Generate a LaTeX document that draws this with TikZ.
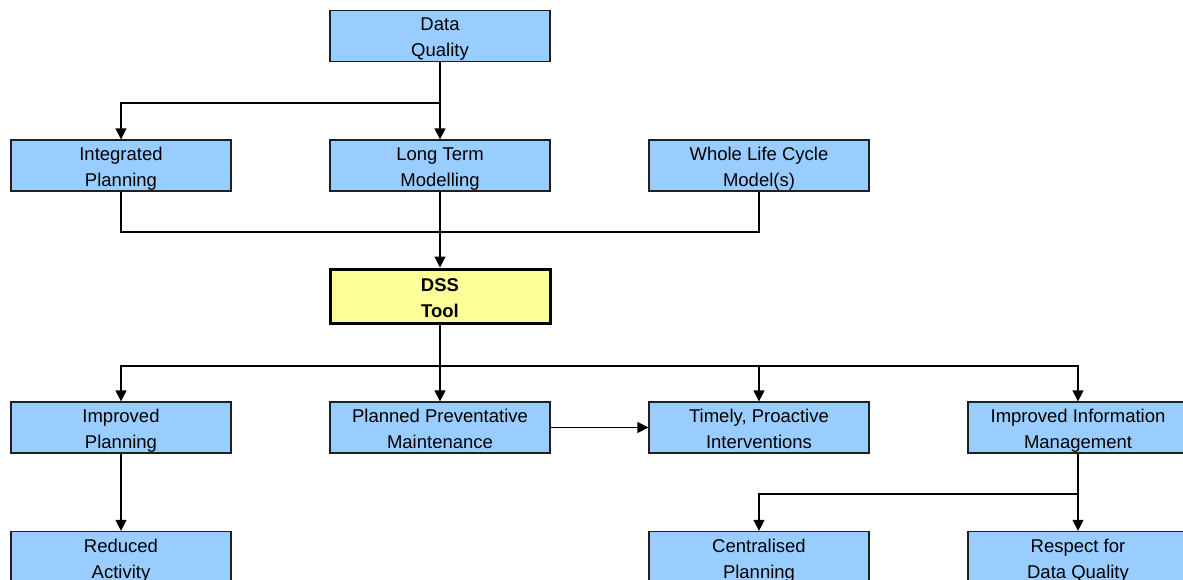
\documentclass[tikz,border=0pt]{standalone}
\usepackage{fontspec}
\setmainfont{Liberation Sans}
\usetikzlibrary{arrows.meta}
\definecolor{boxblue}{HTML}{99CCFF}
\definecolor{boxyellow}{HTML}{FFFF99}
\definecolor{edgegray}{HTML}{202020}
% two centred lines with a fixed first-line height and last-line depth
\newcommand\twolines[2]{\rule{0pt}{20pt}#1\\#2\rule[-4pt]{0pt}{4pt}}
\tikzset{
  box/.style={draw=edgegray, line width=1.3pt, fill=boxblue, minimum width=220pt,
    minimum height=51pt, inner sep=0pt, align=center,
    font=\fontsize{18.5}{26}\selectfont},
  hub/.style={box, fill=boxyellow, line width=3pt, draw=black, minimum height=54pt,
    font=\fontsize{18.5}{26}\selectfont\bfseries},
  wire/.style={line width=1.4pt, draw=black},
  arr/.style={wire, -{Triangle[length=11pt,width=11pt]}}
}
\begin{document}
\begin{tikzpicture}[x=1pt,y=-1pt]
\useasboundingbox (0,0) rectangle (1183,580);
\clip (0,0) rectangle (1183,580);
\fill[white] (0,0) rectangle (1183,580);

% top row
\node[box] (dq) at (440,36) {\twolines{Data}{Quality}};
% input row
\node[box] (ip)  at (121,165.5) {\twolines{Integrated}{Planning}};
\node[box] (ltm) at (440,165.5) {\twolines{Long Term}{Modelling}};
\node[box] (wlc) at (759,165.5) {\twolines{Whole Life Cycle}{Model(s)}};
% central tool
\node[hub] (dss) at (440,296) {\twolines{DSS}{Tool}};
% outcome row
\node[box] (impl) at (121,427.5) {\twolines{Improved}{Planning}};
\node[box] (ppm)  at (440,427.5) {\twolines{Planned Preventative}{Maintenance}};
\node[box] (tpi)  at (759,427.5) {\twolines{Timely, Proactive}{Interventions}};
\node[box] (iim)  at (1078,427.5) {\twolines{Improved Information}{Management}};
% bottom row
\node[box] (ra)  at (121,557) {\twolines{Reduced}{Activity}};
\node[box] (cp)  at (759,557) {\twolines{Centralised}{Planning}};
\node[box] (rdq) at (1078,557) {\twolines{Respect for}{Data Quality}};

% junction points
\coordinate (j1) at (440,103);
\coordinate (j2) at (440,232);
\coordinate (j3) at (440,366);
\coordinate (j4) at (1078,494);

% data quality feeds the modelling row
\draw[arr] (dq.south) -- (ltm.north);
\draw[arr] (j1) -| (ip.north);
% inputs merge into the tool
\draw[wire] (ip.south) |- (j2) -| (wlc.south);
\draw[arr] (ltm.south) -- (dss.north);
% tool fans out to the outcomes
\draw[wire] (dss.south) -- (j3);
\draw[arr] (j3) -| (impl.north);
\draw[arr] (j3) -- (ppm.north);
\draw[arr] (j3) -| (tpi.north);
\draw[arr] (j3) -| (iim.north);
\draw[arr] (ppm.east) -- (tpi.west);
% downstream effects
\draw[arr] (impl.south) -- (ra.north);
\draw[arr] (iim.south) -- (rdq.north);
\draw[arr] (j4) -| (cp.north);
\end{tikzpicture}
\end{document}
